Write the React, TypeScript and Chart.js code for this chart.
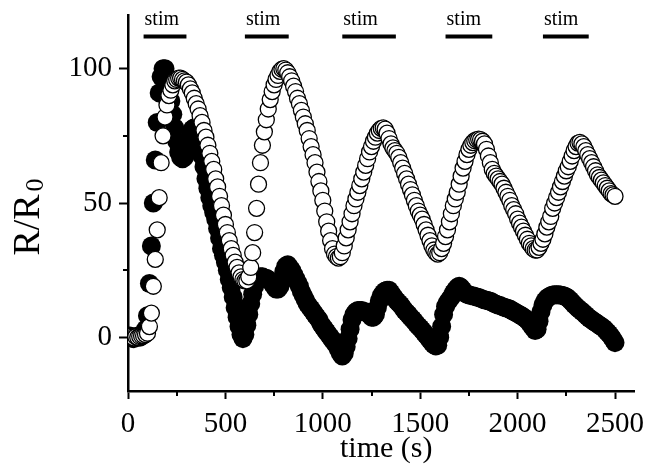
import React, { useEffect, useRef } from "react";
import { Chart, registerables } from "chart.js";

Chart.register(...registerables);

// sampling interval of both traces (s)
const SAMPLE_INTERVAL_S = 10;

// open circles, t = 0 .. 2500 s
const openVals = [
  0, 0.3, 0, -0.2, 0.2, 0, 0.3, 0.5, 0.6, 1.0,
  1.5, 4, 9, 19, 29, 40, 52, 65, 75, 82,
  86.5, 90, 92, 94, 95.5, 96, 96.5, 96.5, 96, 95.5,
  95, 94, 92.5, 91, 89, 87, 85, 82.5, 80, 77,
  74.5, 71.5, 68.5, 65.5, 62.5, 59, 56, 52.5, 49, 45.5,
  42, 39, 36, 33, 30.5, 28, 26, 24, 22.5, 21.5,
  21, 21, 22.5, 26, 31.5, 39, 48, 57, 65, 71.5,
  76.5, 81, 85, 88.5, 91.5, 94, 96, 97.5, 99, 99.8,
  100, 99.5, 98.5, 97, 95.5, 93.5, 91.5, 89, 87, 84.5,
  82, 79.5, 77, 74, 71, 68, 65, 61.5, 58, 54.5,
  51, 47, 43, 39.5, 36, 33, 31, 30, 29.5, 30,
  31.5, 34, 37, 40, 43, 46, 49, 51.5, 54, 56.5,
  59, 61.5, 64, 66.5, 69, 71, 73, 74.5, 76, 77,
  77.8, 78, 77.5, 76, 74, 72, 70.5, 69.5, 68.5, 67,
  65, 63, 61, 59, 57, 55, 53, 51, 49, 47,
  45.5, 44, 42, 40, 38, 36, 34, 32.5, 31.5, 31,
  31.5, 33, 35, 37.5, 40, 43, 46, 49, 51.5, 54,
  57, 60, 63, 65.5, 68, 70, 71.5, 72.5, 73.2, 73.6,
  73.8, 73.6, 73, 72, 70, 67.5, 65, 62.5, 61, 60,
  59, 58, 57, 55.5, 54, 52.5, 51, 49, 47.5, 46,
  44, 42.5, 41, 39.5, 38, 36.5, 35, 34, 33, 32.5,
  32.5, 33.5, 35, 36.5, 38.5, 41, 43, 45, 48, 50,
  52, 54, 56, 58, 60, 62, 63.5, 65.5, 67.5, 69.5,
  71, 72.3, 72.6, 72, 71, 69.5, 68, 66.5, 65, 63.5,
  62, 60.5, 59.5, 58.5, 57.5, 56.5, 55.5, 54.5, 53.5, 53,
  52.5,
];

// filled circles, t = 0 .. 2500 s
const filledVals = [
  0, 0.5, 0, -0.5, 0, 0.5, 0, 0.5, 1, 3,
  8, 20, 34, 50, 66, 80, 91, 97, 100, 100,
  97, 93, 88, 83, 78, 73, 69, 67, 66.5, 67,
  69, 72, 75, 77.5, 78, 77, 74.5, 71, 67.5, 63.5,
  59, 55.5, 52, 49, 46.5, 44, 40.5, 37, 33, 30.5,
  28, 25, 21.5, 18.5, 15, 11, 7.5, 4, 1, -0.5,
  1, 4.5, 8.5, 12.5, 16, 19, 21, 22, 22.5, 22.5,
  22, 22, 21.5, 21, 20, 19, 18, 18, 19, 21.5,
  24.5, 26.5, 27, 26, 25, 23.5, 22, 20.5, 19, 17,
  15.5, 14, 12.5, 11.5, 10.5, 9.5, 8.5, 7.5, 6.5, 5,
  4, 3, 2, 1, 0, -1, -2, -3, -4.5, -6,
  -7, -6, -3.5, -0.5, 3, 6.5, 8.5, 9.5, 10, 10,
  10, 9.5, 9.5, 9, 8.5, 7.5, 7.5, 8.5, 11, 13.5,
  15.5, 16.5, 17.2, 17.5, 17.5, 16.5, 15.5, 14.5, 13.5, 12.8,
  12, 11, 10, 9.2, 8.5, 7.5, 6.8, 6, 5, 4.2,
  3.5, 2.6, 1.8, 0.8, 0, -1, -2, -2.8, -3.2, -3,
  0, 4, 8.5, 11.5, 13, 14, 15, 16.5, 17.5, 18.5,
  19, 18.5, 17.5, 16.5, 16, 15.8, 15.5, 15.5, 15.2, 15,
  14.8, 14.5, 14.2, 14, 13.8, 13.6, 13.4, 13, 12.6, 12.3,
  12, 11.8, 11.5, 11.2, 11, 10.7, 10.5, 10, 9.6, 9.2,
  8.8, 8.4, 8, 7.5, 7, 6.3, 5.5, 4.5, 3.5, 2.5,
  3, 6, 9.5, 12, 13.5, 14.5, 15, 15.5, 15.7, 15.8,
  15.8, 15.8, 15.7, 15.6, 15.4, 15, 14.5, 13.8, 13, 12.2,
  11.5, 10.8, 10.2, 9.6, 9, 8.3, 7.6, 7, 6.5, 6,
  5.5, 5, 4.5, 4, 3.5, 2.8, 2, 1.2, 0.3, -0.8,
  -2,
];

// stimulation periods (s)
const stimStart = [80, 600, 1100, 1630, 2130];
const stimEnd = [300, 825, 1375, 1870, 2365];
const stimLevel = 112;
const stimLabel = "stim";

const xTickValues = [0, 250, 500, 750, 1000, 1250, 1500, 1750, 2000, 2250, 2500];
const yTickValues = [0, 25, 50, 75, 100];
const xMajorStep = 500;
const yMajorStep = 50;
const X_MIN = 0;
const X_MAX = 2600;
const Y_MIN = -20;
const Y_MAX = 120;

const xTitle = "time (s)";
const yTitleMain = "R/R";
const yTitleSub = "0";

const FONT = '"Liberation Serif", "Times New Roman", serif';

const decorPlugin = {
  id: "decor",
  afterDraw(chart: any) {
    const { ctx, chartArea } = chart;
    const xs = chart.scales.x;
    const ys = chart.scales.y;
    ctx.save();
    // minor ticks
    ctx.strokeStyle = "#000";
    ctx.lineWidth = 2;
    xTickValues
      .filter((v) => v % xMajorStep !== 0)
      .forEach((v) => {
        const px = Math.round(xs.getPixelForValue(v));
        ctx.beginPath();
        ctx.moveTo(px, chartArea.bottom);
        ctx.lineTo(px, chartArea.bottom + 5);
        ctx.stroke();
      });
    yTickValues
      .filter((v) => v % yMajorStep !== 0)
      .forEach((v) => {
        const py = Math.round(ys.getPixelForValue(v));
        ctx.beginPath();
        ctx.moveTo(chartArea.left, py);
        ctx.lineTo(chartArea.left - 5, py);
        ctx.stroke();
      });
    // stim labels
    ctx.fillStyle = "#000";
    ctx.font = `20px ${FONT}`;
    ctx.textAlign = "left";
    ctx.textBaseline = "alphabetic";
    stimStart.forEach((s) => {
      ctx.fillText(stimLabel, xs.getPixelForValue(s) + 1, ys.getPixelForValue(stimLevel) - 11);
    });
    // x title
    ctx.font = `30px ${FONT}`;
    ctx.textAlign = "center";
    ctx.fillText(xTitle, (chartArea.left + chartArea.right) / 2 + 5, chart.height - 12);
    // y title (rotated, with subscript)
    ctx.font = `38px ${FONT}`;
    const wMain = ctx.measureText(yTitleMain).width;
    ctx.font = `26px ${FONT}`;
    const wSub = ctx.measureText(yTitleSub).width;
    const gap = 3;
    const total = wMain + gap + wSub;
    const centerY = (chartArea.top + chartArea.bottom) / 2 + 14;
    ctx.translate(39, centerY + total / 2);
    ctx.rotate(-Math.PI / 2);
    ctx.textAlign = "left";
    ctx.font = `38px ${FONT}`;
    ctx.fillText(yTitleMain, 0, 0);
    ctx.font = `26px ${FONT}`;
    ctx.fillText(yTitleSub, wMain + gap, 4);
    ctx.restore();
  },
};

export default function App() {
  const canvasRef = useRef<HTMLCanvasElement | null>(null);

  useEffect(() => {
    const canvas = canvasRef.current;
    if (!canvas) return;

    const openPts = openVals.map((v, i) => ({ x: i * SAMPLE_INTERVAL_S, y: v }));
    const filledPts = filledVals.map((v, i) => ({ x: i * SAMPLE_INTERVAL_S, y: v }));
    const stimSets = stimStart.map((s, i) => ({
      type: "line" as const,
      data: [
        { x: s, y: stimLevel },
        { x: stimEnd[i], y: stimLevel },
      ],
      showLine: true,
      borderColor: "#000",
      borderWidth: 4,
      borderCapStyle: "butt" as const,
      pointRadius: 0,
      fill: false,
    }));

    const tickFont = { family: FONT, size: 29 };

    const chart = new Chart(canvas, {
      type: "scatter",
      data: {
        datasets: [
          {
            data: openPts,
            pointRadius: 8,
            pointBackgroundColor: "#fff",
            pointBorderColor: "#000",
            pointBorderWidth: 1.3,
            showLine: false,
            clip: 0,
          } as any,
          {
            data: filledPts,
            pointRadius: 9.5,
            pointBackgroundColor: "#000",
            pointBorderColor: "#000",
            pointBorderWidth: 0,
            showLine: false,
            clip: 0,
          } as any,
          ...stimSets,
        ],
      },
      options: {
        animation: false,
        responsive: true,
        maintainAspectRatio: false,
        devicePixelRatio: 1,
        events: [],
        layout: { padding: { top: 15, right: 17.5, left: 0, bottom: 0 } },
        plugins: { legend: { display: false }, tooltip: { enabled: false } },
        scales: {
          x: {
            type: "linear",
            min: X_MIN,
            max: X_MAX,
            afterBuildTicks: (s: any) => {
              s.ticks = xTickValues.map((v) => ({ value: v }));
            },
            afterFit: (s: any) => {
              s.height = 78;
              s.paddingLeft = 0;
              s.paddingRight = 0;
            },
            ticks: {
              autoSkip: false,
              maxRotation: 0,
              padding: 8,
              color: "#000",
              font: tickFont,
              callback: (v: any) => (Number(v) % xMajorStep === 0 ? String(v) : ""),
            },
            grid: {
              drawOnChartArea: false,
              drawTicks: true,
              tickLength: 8,
              tickWidth: 2,
              tickColor: (c: any) =>
                c.tick && c.tick.value % xMajorStep === 0 ? "#000" : "rgba(0,0,0,0)",
            },
            border: { display: true, color: "#000", width: 2.5 },
          },
          y: {
            type: "linear",
            min: Y_MIN,
            max: Y_MAX,
            afterBuildTicks: (s: any) => {
              s.ticks = yTickValues.map((v) => ({ value: v }));
            },
            afterFit: (s: any) => {
              s.width = 128;
              s.paddingTop = 0;
              s.paddingBottom = 0;
            },
            ticks: {
              autoSkip: false,
              padding: 7,
              color: "#000",
              font: tickFont,
              callback: (v: any) => (Number(v) % yMajorStep === 0 ? String(v) : ""),
            },
            grid: {
              drawOnChartArea: false,
              drawTicks: true,
              tickLength: 9,
              tickWidth: 2,
              tickColor: (c: any) =>
                c.tick && c.tick.value % yMajorStep === 0 ? "#000" : "rgba(0,0,0,0)",
            },
            border: { display: true, color: "#000", width: 2.5 },
          },
        },
      },
      plugins: [decorPlugin],
    });

    return () => chart.destroy();
  }, []);

  return (
    <div style={{ position: "fixed", left: 0, top: 0, width: 652, height: 469, background: "#fff" }}>
      <canvas ref={canvasRef} />
    </div>
  );
}
